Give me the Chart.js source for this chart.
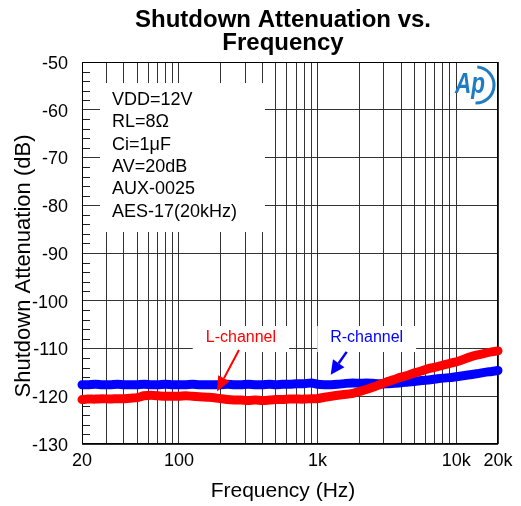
<!DOCTYPE html>
<html>
<head>
<meta charset="utf-8">
<script src="https://cdn.jsdelivr.net/npm/chart.js@4.4.1/dist/chart.umd.min.js"></script>
<style>
  body { margin: 0; background: #fff; }
</style>
</head>
<body>
<canvas id="attenChart" width="521" height="506"></canvas>
<script>
var freqHz = [20, 22, 25, 28, 32, 36, 40, 45, 50, 56, 63, 71, 80, 90, 100, 112, 125, 140, 160, 180,
  200, 224, 250, 280, 315, 355, 400, 450, 500, 560, 630, 710, 800, 900, 1000, 1120, 1250, 1400, 1600, 1800,
  2000, 2240, 2500, 2800, 3150, 3550, 4000, 4500, 5000, 5600, 6300, 7100, 8000, 9000, 10000, 11200, 12500, 14000, 16000, 18000, 20000];

var leftDb = [-120.7, -120.6, -120.6, -120.5, -120.6, -120.5, -120.5, -120.4, -120.3, -119.9, -119.8, -119.9, -120.0, -120.0, -120.0, -119.9, -120.0, -120.1, -120.2, -120.3,
  -120.5, -120.7, -120.8, -120.8, -120.9, -120.8, -120.9, -120.8, -120.7, -120.7, -120.6, -120.6, -120.6, -120.5, -120.5, -120.2, -120.0, -119.8, -119.6, -119.4,
  -119.0, -118.6, -118.1, -117.6, -117.0, -116.5, -116.0, -115.6, -115.1, -114.7, -114.2, -113.9, -113.5, -113.1, -112.8, -112.3, -111.8, -111.4, -111.0, -110.7, -110.5];

var rightDb = [-117.6, -117.6, -117.5, -117.6, -117.6, -117.5, -117.6, -117.6, -117.6, -117.5, -117.6, -117.6, -117.5, -117.6, -117.6, -117.6, -117.5, -117.6, -117.6, -117.6,
  -117.6, -117.5, -117.6, -117.6, -117.5, -117.6, -117.6, -117.5, -117.6, -117.5, -117.5, -117.4, -117.4, -117.2, -117.5, -117.6, -117.6, -117.5, -117.3, -117.2,
  -117.3, -117.2, -117.3, -117.4, -117.4, -117.3, -117.2, -117.0, -116.9, -116.7, -116.6, -116.4, -116.2, -116.1, -115.9, -115.7, -115.5, -115.3, -115.0, -114.8, -114.6];

var gridFreqs = [20, 30, 40, 50, 60, 70, 80, 90, 100, 200, 300, 400, 500, 600, 700, 800, 900,
  1000, 2000, 3000, 4000, 5000, 6000, 7000, 8000, 9000, 10000, 20000];
var xLabelValues = [20, 100, 1000, 10000, 20000];
var xLabelText = ['20', '100', '1k', '10k', '20k'];

var yTicks = [-130, -120, -110, -100, -90, -80, -70, -60, -50];
var yMinorTicks = [-128, -126, -124, -122, -118, -116, -114, -112, -108, -106, -104, -102, -98, -96, -94, -92,
  -88, -86, -84, -82, -78, -76, -74, -72, -68, -66, -64, -62, -58, -56, -54, -52];

var conditions = ['VDD=12V', 'RL=8\u03A9', 'Ci=1\u03BCF', 'AV=20dB', 'AUX-0025', 'AES-17(20kHz)'];

// label anchors in data units: [freq, dB]
var leftLabelAt = [280, -107.8];
var rightLabelAt = [2260, -107.8];
var leftArrow = [[271, -110.3], [188, -119.0]];
var rightArrow = [[1621, -110.7], [1243, -115.5]];

var FONT = "'Liberation Sans', Arial, sans-serif";

function arrow(ctx, x0, y0, x1, y1, color, w, headLen, headW) {
    var ang = Math.atan2(y1 - y0, x1 - x0);
    var bx = x1 - headLen * Math.cos(ang), by = y1 - headLen * Math.sin(ang);
    ctx.strokeStyle = color;
    ctx.fillStyle = color;
    ctx.lineWidth = w;
    ctx.beginPath();
    ctx.moveTo(x0, y0);
    ctx.lineTo(bx, by);
    ctx.stroke();
    ctx.beginPath();
    ctx.moveTo(x1, y1);
    ctx.lineTo(bx + headW / 2 * Math.sin(ang), by - headW / 2 * Math.cos(ang));
    ctx.lineTo(bx - headW / 2 * Math.sin(ang), by + headW / 2 * Math.cos(ang));
    ctx.closePath();
    ctx.fill();
}

var decorations = {
    id: 'decorations',
    beforeDatasetsDraw: function(chart) {
        var ctx = chart.ctx, a = chart.chartArea;
        var xs = chart.scales.x, ys = chart.scales.y;
        ctx.save();

        // minor ticks inside left edge
        ctx.strokeStyle = '#222';
        ctx.lineWidth = 1;
        yMinorTicks.forEach(function(v) {
            var py = Math.round(ys.getPixelForValue(v)) + 0.5;
            ctx.beginPath();
            ctx.moveTo(a.left, py);
            ctx.lineTo(a.left + 8, py);
            ctx.stroke();
        });

        // conditions box
        ctx.fillStyle = '#fff';
        ctx.fillRect(a.left + 18, a.top + 21, 165, 149);
        ctx.fillStyle = '#000';
        ctx.font = '18px ' + FONT;
        ctx.textAlign = 'left';
        ctx.textBaseline = 'alphabetic';
        conditions.forEach(function(t, i) {
            ctx.fillText(t, a.left + 30, a.top + 43 + i * 22.3);
        });

        // channel labels
        ctx.font = '16px ' + FONT;
        ctx.textAlign = 'center';
        ctx.textBaseline = 'middle';
        [[leftLabelAt, 'L-channel', 'rgb(255,0,0)'], [rightLabelAt, 'R-channel', 'rgb(0,0,255)']].forEach(function(l) {
            var px = xs.getPixelForValue(l[0][0]), py = ys.getPixelForValue(l[0][1]);
            var w = ctx.measureText(l[1]).width + 26;
            ctx.fillStyle = '#fff';
            ctx.fillRect(px - w / 2, py - 12, w, 26);
            ctx.fillStyle = l[2];
            ctx.fillText(l[1], px, py);
        });

        // logo
        var lx = a.right - 26, ly = a.top + 23;
        ctx.strokeStyle = '#1f7cc2';
        ctx.fillStyle = '#1f7cc2';
        ctx.lineWidth = 3;
        ctx.beginPath();
        ctx.arc(lx + 4, ly, 18, -1.5, 1.6);
        ctx.stroke();
        ctx.save();
        ctx.translate(lx - 2, ly);
        ctx.scale(0.75, 1);
        ctx.font = 'italic bold 30px ' + FONT;
        ctx.textAlign = 'center';
        ctx.textBaseline = 'middle';
        ctx.fillText('Ap', 0, 0);
        ctx.restore();

        // frame
        ctx.strokeStyle = '#000';
        ctx.lineWidth = 1;
        ctx.strokeRect(Math.round(a.left) + 0.5, Math.round(a.top) + 0.5,
            Math.round(a.right - a.left) - 1, Math.round(a.bottom - a.top) - 1);

        // titles
        ctx.fillStyle = '#000';
        ctx.textAlign = 'center';
        ctx.textBaseline = 'alphabetic';
        ctx.font = 'bold 24px ' + FONT;
        ctx.fillText('Shutdown Attenuation vs.', 283, 27);
        ctx.fillText('Frequency', 283, 50);
        ctx.font = '21px ' + FONT;
        ctx.fillText('Frequency (Hz)', 283, 497);
        ctx.save();
        ctx.translate(30, 266);
        ctx.rotate(-Math.PI / 2);
        ctx.font = '22px ' + FONT;
        ctx.fillText('Shutdown Attenuation (dB)', 0, 0);
        ctx.restore();

        ctx.restore();
    },
    afterDatasetsDraw: function(chart) {
        var ctx = chart.ctx, xs = chart.scales.x, ys = chart.scales.y;
        ctx.save();
        arrow(ctx, xs.getPixelForValue(leftArrow[0][0]), ys.getPixelForValue(leftArrow[0][1]),
            xs.getPixelForValue(leftArrow[1][0]), ys.getPixelForValue(leftArrow[1][1]), 'rgb(255,0,0)', 2, 15, 13);
        arrow(ctx, xs.getPixelForValue(rightArrow[0][0]), ys.getPixelForValue(rightArrow[0][1]),
            xs.getPixelForValue(rightArrow[1][0]), ys.getPixelForValue(rightArrow[1][1]), 'rgb(0,0,255)', 2.5, 14, 14);
        ctx.restore();
    }
};

var tickFont = { family: FONT, size: 18 };

var ctx = document.getElementById('attenChart').getContext('2d');
var myChart = new Chart(ctx, {
    type: 'line',
    data: {
        datasets: [{
            label: 'L-channel',
            data: freqHz.map(function(f, i) { return { x: f, y: leftDb[i] }; }),
            borderColor: 'rgb(255, 0, 0)',
            borderWidth: 9,
            borderCapStyle: 'round',
            borderJoinStyle: 'round',
            pointRadius: 0,
            tension: 0.2,
            fill: false,
            clip: false
        }, {
            label: 'R-channel',
            data: freqHz.map(function(f, i) { return { x: f, y: rightDb[i] }; }),
            borderColor: 'rgb(0, 0, 255)',
            borderWidth: 9,
            borderCapStyle: 'round',
            borderJoinStyle: 'round',
            pointRadius: 0,
            tension: 0.2,
            fill: false,
            clip: false
        }]
    },
    options: {
        responsive: false,
        animation: false,
        devicePixelRatio: 1,
        layout: { padding: { top: 62, right: 23, bottom: 0, left: 0 } },
        plugins: {
            legend: { display: false },
            tooltip: { enabled: false }
        },
        scales: {
            x: {
                type: 'logarithmic',
                min: 20,
                max: 20000,
                afterBuildTicks: function(scale) {
                    scale.ticks = gridFreqs.map(function(v) { return { value: v }; });
                },
                afterFit: function(scale) { scale.height = 62; },
                grid: { color: '#333', lineWidth: 1, drawTicks: false },
                border: { display: false },
                ticks: {
                    autoSkip: false,
                    maxRotation: 0,
                    padding: 6,
                    color: '#000',
                    font: tickFont,
                    callback: function(v) {
                        var i = xLabelValues.indexOf(v);
                        return i < 0 ? '' : xLabelText[i];
                    }
                }
            },
            y: {
                min: -130,
                max: -50,
                afterBuildTicks: function(scale) {
                    scale.ticks = yTicks.map(function(v) { return { value: v }; });
                },
                afterFit: function(scale) { scale.width = 82; },
                grid: { color: '#333', lineWidth: 1, drawTicks: false },
                border: { display: false },
                ticks: { padding: 14, labelOffset: 2, color: '#000', font: tickFont }
            }
        }
    },
    plugins: [decorations]
});
</script>
</body>
</html>
